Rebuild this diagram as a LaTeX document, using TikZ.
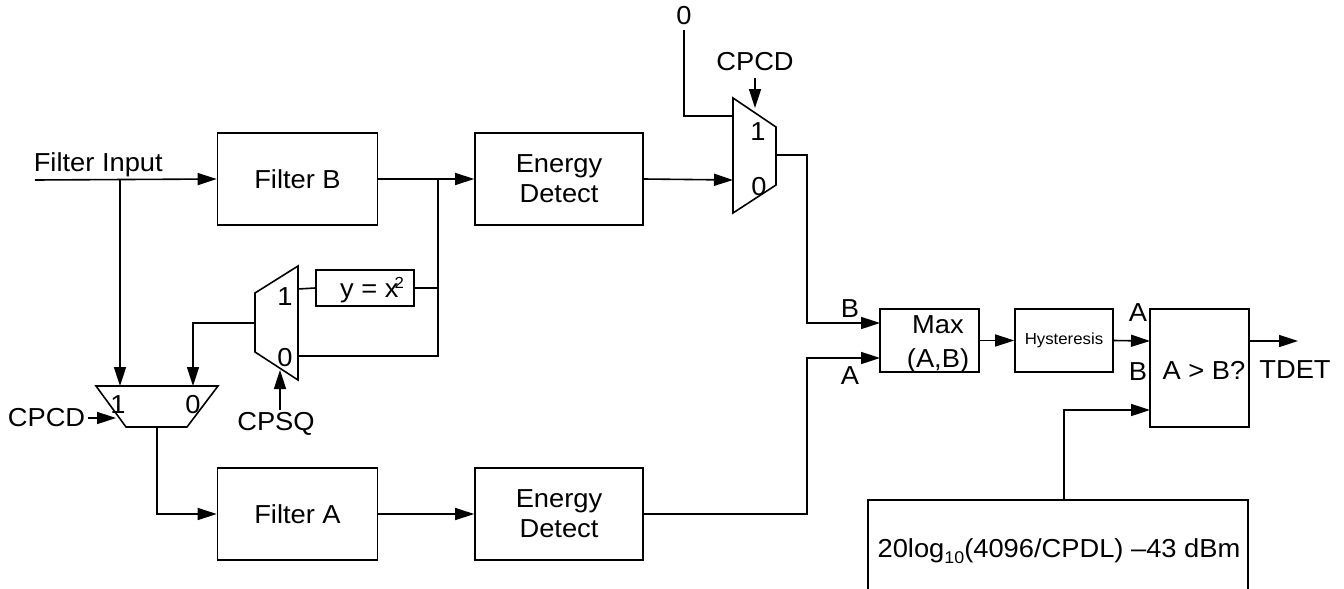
\documentclass[tikz,border=0pt]{standalone}
\usepackage{fontspec}
\setmainfont{Liberation Sans}[FakeStretch=1.05]
\usetikzlibrary{arrows.meta,calc}
\begin{document}
\begin{tikzpicture}[x=1pt,y=-1pt,line width=1.6pt,
  >={Triangle[length=19pt,width=12pt]},
  font=\fontsize{26}{30}\selectfont,
  blk/.style={draw,inner sep=0pt,align=center},
  lbl/.style={inner sep=0pt}]
\useasboundingbox (0,0) rectangle (1344,589);
% blocks
\node[blk,minimum width=160pt,minimum height=92pt] (fb) at (297.5,179) {Filter B};
\node[blk,minimum width=160pt,minimum height=92pt] (fa) at (297.5,514) {Filter A};
\node[blk,minimum width=168pt,minimum height=92pt] (edt) at (559,179) {Energy\\Detect};
\node[blk,minimum width=168pt,minimum height=92pt] (eda) at (559,514) {Energy\\Detect};
\node[blk,minimum width=98pt,minimum height=36pt] (sq) at (365,288) {};
\node[lbl] at (372,290) {y = x\kern-4pt\raisebox{9pt}{\fontsize{16}{16}\selectfont 2}};
\node[blk,minimum width=99pt,minimum height=63pt] (max) at (929.5,340.5) {};
\node[lbl,align=center,font=\fontsize{26}{34}\selectfont] at (938,344) {Max\\(A,B)};
\node[blk,minimum width=98pt,minimum height=63pt,font=\fontsize{16}{18}\selectfont] (hy) at (1064,340.5) {Hysteresis};
\node[blk,minimum width=99pt,minimum height=118pt] (cmp) at (1199.5,368) {};
\node[lbl] at (1204,370) {A > B?};
% threshold box (open at bottom)
\draw (868,589) -- (868,500) -- (1248,500) -- (1248,589);
\coordinate (thr) at (1064,500);
\node[lbl] at (1059,551) {20log\raisebox{-6pt}{\fontsize{17}{17}\selectfont 10}(4096/CPDL) \textendash43 dBm};
% muxes
\draw (733,98) -- (776,127) -- (776,185) -- (733,213) -- cycle;
\coordinate (m1a) at (733,116); \coordinate (m1b) at (733,180);
\coordinate (m1o) at (776,155); \coordinate (m1s) at (755,108);
\node[lbl] at (758,132) {1};
\node[lbl] at (759,187) {0};
\draw (298,266) -- (255,293) -- (255,352) -- (298,380) -- cycle;
\coordinate (m2a) at (298,289); \coordinate (m2b) at (298,356);
\coordinate (m2o) at (255,323); \coordinate (m2s) at (280,370);
\node[lbl] at (285,297) {1};
\node[lbl] at (285,358) {0};
\draw (96,386) -- (218,386) -- (187,427) -- (126,427) -- cycle;
\coordinate (m3a) at (120,386); \coordinate (m3b) at (193,386);
\coordinate (m3o) at (157,427); \coordinate (m3s) at (116,418);
\node[lbl] at (118,405) {1};
\node[lbl] at (193,405) {0};
% labels
\coordinate (fin) at (35,180);
\node[lbl,anchor=base west] at (33,171) {Filter Input};
\node[lbl] (zero) at (684,16) {0};
\coordinate (zs) at (684,30);
\node[lbl] (cpcdt) at (755,62) {CPCD};
\coordinate (cpcdts) at (755,78);
\node[lbl,anchor=east] (cpcdb) at (86,418) {CPCD};
\node[lbl] (cpsq) at (276,424) {CPSQ};
\coordinate (cpsqs) at (280,410);
\coordinate (j1) at (120,180);
\coordinate (j2) at (438,180);
\coordinate (kx) at (807,0);
\coordinate (maxB) at (880,323);
\coordinate (maxA) at (880,358);
\coordinate (cmpA) at (1150,341);
\coordinate (cmpB) at (1150,410);
\coordinate (tdet) at (1298,341);
\node[lbl] at (850,309) {B};
\node[lbl] at (850,376) {A};
\node[lbl] at (1138,313) {A};
\node[lbl] at (1138,372) {B};
\node[lbl] at (1295,370) {TDET};
% connectors
\draw[->] (fin) -- (fb.west);
\draw[->] (j1) -- (m3a);
\draw[->] (fb.east) -- (edt.west);
\draw (j2) -- (j2 |- m2b) -- (m2b);
\draw (sq.east) -- (sq.east -| j2);
\draw (sq.west) -- (m2a);
\draw[->] (m2o) -| (m3b);
\draw[->] (cpsqs) -- (m2s);
\draw[->] (cpcdb.east) ++(2,0) -- (m3s);
\draw[->] (m3o) |- (fa.west);
\draw[->] (fa.east) -- (eda.west);
\draw[->] (edt.east) -- (m1b);
\draw (zs) |- (m1a);
\draw[->] (cpcdts) -- (m1s);
\draw[->] (m1o) -- (m1o -| kx) |- (maxB);
\draw[->] (eda.east) -- (eda.east -| kx) |- (maxA);
\draw[->] (max.east) -- (hy.west);
\draw[->] (hy.east) -- (cmpA);
\draw[->] (thr) |- (cmpB);
\draw[->] (cmpA -| cmp.east) -- (tdet);
\end{tikzpicture}
\end{document}
